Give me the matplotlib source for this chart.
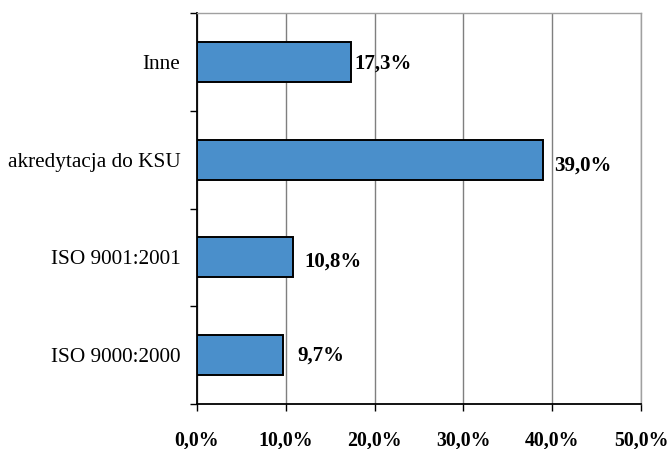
import matplotlib
matplotlib.use("Agg")
import matplotlib.pyplot as plt
from matplotlib.ticker import FixedLocator

categories = ["ISO 9000:2000", "ISO 9001:2001", "akredytacja do KSU", "Inne"]
values = [9.7, 10.8, 39.0, 17.3]
x_ticks = [0, 10, 20, 30, 40, 50]
x_tick_labels = ["0,0%", "10,0%", "20,0%", "30,0%", "40,0%", "50,0%"]

# label offsets (points) to the right of each bar end
label_dx = [10, 8, 8, 3]
label_dy = [0, -3, -4, -1]

plt.rcParams["font.family"] = ["Liberation Serif", "DejaVu Serif"]

fig = plt.figure(figsize=(6.67, 4.49), dpi=100)
ax = fig.add_axes([0.2954, 0.1002, 0.6657, 0.8707])

y = list(range(len(categories)))
ax.barh(y, values, height=0.41, color="#4a8fcb", edgecolor="black",
        linewidth=1.4, zorder=3)

for yi, v, dx, dy in zip(y, values, label_dx, label_dy):
    ax.annotate(f"{v:.1f}%".replace(".", ","), xy=(v, yi),
                xytext=(dx, dy), textcoords="offset points",
                ha="left", va="center", fontsize=15, fontweight="bold",
                zorder=4)

ax.set_xlim(0, 50)
ax.set_ylim(-0.5, len(categories) - 0.5)

ax.set_xticks(x_ticks)
ax.set_xticklabels(x_tick_labels, fontsize=14.3, fontweight="bold")
ax.tick_params(axis="x", direction="out", length=5, width=1,
               color="black", pad=14)

ax.set_yticks(y)
ax.set_yticklabels(categories, fontsize=15.3)
ax.tick_params(axis="y", which="major", length=0, pad=12)
ax.yaxis.set_minor_locator(FixedLocator([i - 0.5 for i in range(len(categories) + 1)]))
ax.tick_params(axis="y", which="minor", direction="out", length=5, width=1,
               color="black")

ax.xaxis.grid(True, color="#7f7f7f", linewidth=1, zorder=0)
ax.set_axisbelow(True)

for side in ("top", "right"):
    ax.spines[side].set_color("#a0a0a0")
    ax.spines[side].set_linewidth(1)
for side in ("left", "bottom"):
    ax.spines[side].set_color("black")
    ax.spines[side].set_linewidth(1.3)

fig.savefig("out.png", dpi=100, facecolor="white")
